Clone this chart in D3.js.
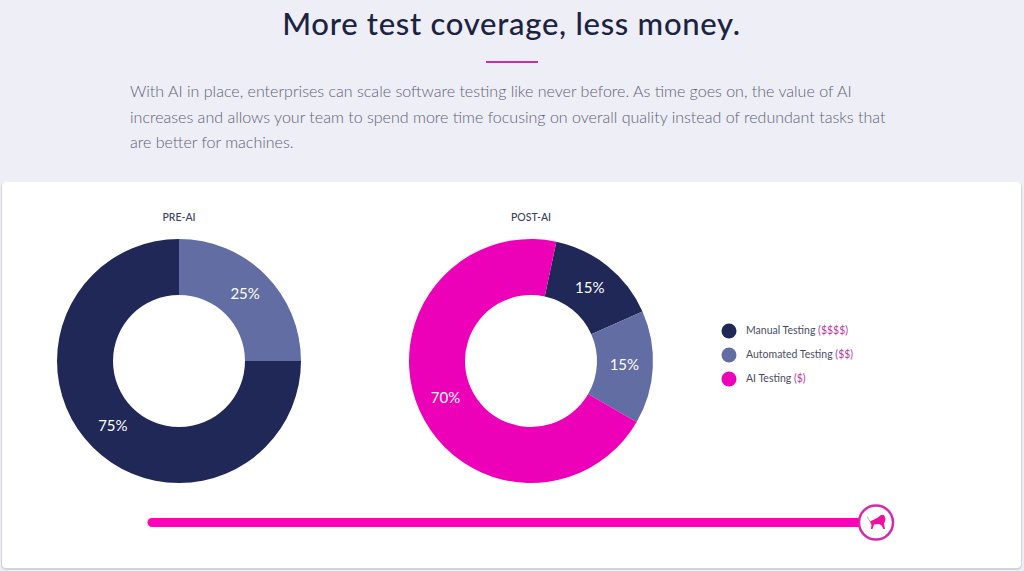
<!DOCTYPE html>
<html>
<head>
<meta charset="utf-8">
<script src="https://cdn.jsdelivr.net/npm/d3@7"></script>
<style>
  html, body { margin: 0; padding: 0; background: #edeef6; overflow: hidden; }
  text { font-family: Lato, sans-serif; }
</style>
</head>
<body>
<div id="chart"></div>
<script>
const categories = ["Manual Testing", "Automated Testing", "AI Testing"];
const costLabels = ["($$$$)", "($$)", "($)"];
const preCategories = ["Automated Testing", "Manual Testing"];
const preValues = [25, 75];
const postCategories = ["Manual Testing", "Automated Testing", "AI Testing"];
const postValues = [15, 15, 70];
const chartTitles = ["PRE-AI", "POST-AI"];
const introLines = [
  "With AI in place, enterprises can scale software testing like never before. As time goes on, the value of AI",
  "increases and allows your team to spend more time focusing on overall quality instead of redundant tasks that",
  "are better for machines."
];
const sliderRange = [0, 100];
const sliderValue = 100;

const width = 1024;
const height = 571;
const pink = "#ec00b8";

const color = d3.scaleOrdinal().domain(categories).range(["#1f2857", "#626da3", pink]);

const svg = d3
  .select("#chart")
  .append("svg")
  .attr("width", width)
  .attr("height", height)
  .style("display", "block");

// Heading
svg
  .append("text")
  .attr("x", 511.5)
  .attr("y", 35)
  .attr("text-anchor", "middle")
  .attr("font-size", "31px")
  .attr("font-weight", 500)
  .attr("letter-spacing", "0.72px")
  .attr("fill", "#1c2340")
  .text("More test coverage, less money.");

svg
  .append("rect")
  .attr("x", 486)
  .attr("y", 61)
  .attr("width", 52)
  .attr("height", 2)
  .attr("fill", "#c72cb4");

svg
  .selectAll(".intro")
  .data(introLines)
  .enter()
  .append("text")
  .attr("class", "intro")
  .attr("x", 130)
  .attr("y", (d, i) => 97 + i * 25.7)
  .attr("font-size", "16.05px")
  .attr("font-weight", 300)
  .attr("fill", "#5f6277")
  .text((d) => d);

// White card, the darker rect underneath gives the bottom shadow
svg
  .append("rect")
  .attr("x", 1)
  .attr("y", 182)
  .attr("width", 1021)
  .attr("height", 388)
  .attr("rx", 5)
  .attr("fill", "#d3d4de");

svg
  .append("rect")
  .attr("x", 2)
  .attr("y", 182)
  .attr("width", 1019)
  .attr("height", 386)
  .attr("rx", 4)
  .attr("fill", "#fff");

// Donuts
const arc = d3.arc().innerRadius(66).outerRadius(122);
const labelArc = d3.arc().innerRadius(93.5).outerRadius(93.5);

function drawDonut(names, values, cx, title, startAngle) {
  const pie = d3
    .pie()
    .sort(null)
    .startAngle(startAngle)
    .endAngle(startAngle + 2 * Math.PI);

  const g = svg.append("g").attr("transform", `translate(${cx}, 361)`);
  const arcs = pie(values);

  g.selectAll("path")
    .data(arcs)
    .enter()
    .append("path")
    .attr("d", arc)
    .attr("fill", (d, i) => color(names[i]));

  g.selectAll(".pct")
    .data(arcs)
    .enter()
    .append("text")
    .attr("class", "pct")
    .attr("transform", (d) => `translate(${labelArc.centroid(d)})`)
    .attr("dy", "0.28em")
    .attr("text-anchor", "middle")
    .attr("font-size", "15px")
    .attr("fill", "#fff")
    .text((d) => d.value + "%");

  g.append("text")
    .attr("y", -140)
    .attr("text-anchor", "middle")
    .attr("font-size", "10.5px")
    .attr("font-weight", 500)
    .attr("fill", "#3a3f5c")
    .text(title);
}

drawDonut(preCategories, preValues, 179, chartTitles[0], 0);
drawDonut(postCategories, postValues, 531, chartTitles[1], (12 * Math.PI) / 180);

// Legend
const legend = svg
  .selectAll(".legend-item")
  .data(categories)
  .enter()
  .append("g")
  .attr("class", "legend-item")
  .attr("transform", (d, i) => `translate(729, ${331 + i * 24})`);

legend
  .append("circle")
  .attr("r", 7.5)
  .attr("fill", (d) => color(d));

const legendText = legend
  .append("text")
  .attr("x", 17)
  .attr("y", 3)
  .attr("font-size", "10.5px")
  .attr("fill", "#4a4d62");

legendText.append("tspan").text((d) => d + " ");
legendText
  .append("tspan")
  .attr("fill", "#b8359f")
  .text((d, i) => costLabels[i]);

// Slider
const sliderX = d3.scaleLinear().domain(sliderRange).range([152, 876]);

svg
  .append("line")
  .attr("x1", sliderX(sliderRange[0]))
  .attr("x2", sliderX(sliderValue))
  .attr("y1", 522.5)
  .attr("y2", 522.5)
  .attr("stroke", "#ff00bb")
  .attr("stroke-width", 9)
  .attr("stroke-linecap", "round");

const handle = svg
  .append("g")
  .attr("transform", `translate(${sliderX(sliderValue)}, 522.5)`);

handle
  .append("circle")
  .attr("r", 17)
  .attr("fill", "#fff")
  .attr("stroke", "#d12cb0")
  .attr("stroke-width", 2.5);

// Lion icon
handle
  .append("path")
  .attr(
    "d",
    "M-6,-1 L-2,-3 L2,-5 L5,-7.5 L8,-7.5 L9.5,-4 L9,-1 L8,1 L9,6.5 L7.5,6.5 L5.5,3 L3,1.5 L-2,2 L-3.5,6.5 L-5,6.5 L-4.5,2.5 Z"
  )
  .attr("fill", "#f0109f");
handle
  .append("path")
  .attr("d", "M-6,-1 L-9,-6")
  .attr("stroke", "#b9a6d6")
  .attr("stroke-width", 1);
</script>
</body>
</html>
